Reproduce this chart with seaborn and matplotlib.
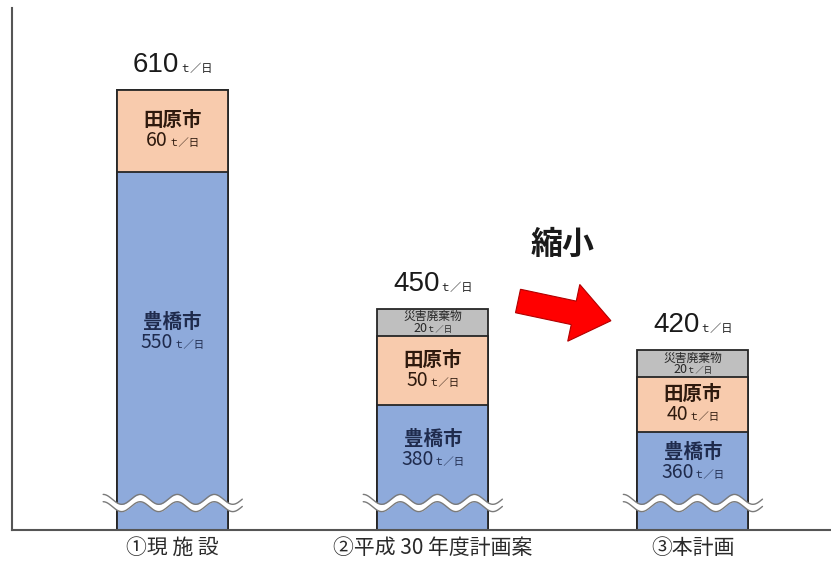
import numpy as np
import pandas as pd
import matplotlib
matplotlib.use("Agg")
import matplotlib.pyplot as plt
import matplotlib.transforms as mtransforms
from matplotlib.patches import Polygon
from matplotlib.offsetbox import TextArea, HPacker, VPacker, AnnotationBbox
import seaborn as sns

# ---- data (t/日) ----
plans = ["①現 施 設", "②平成 30 年度計画案", "③本計画"]
toyohashi = [550, 380, 360]
tahara = [60, 50, 40]
disaster = [0, 20, 20]
segment_names = ["豊橋市", "田原市", "災害廃棄物"]
unit = "ｔ／日"
shrink_label = "縮小"

sns.set_theme(style="white")
plt.rcParams["font.family"] = ["Noto Sans CJK JP", "DejaVu Sans"]
TOTAL_FONT = ["Liberation Sans", "DejaVu Sans"]
SEG_FONT = ["Noto Sans CJK JP", "DejaVu Sans"]

df = pd.DataFrame({"plan": plans, "豊橋市": toyohashi,
                   "田原市": tahara, "災害廃棄物": disaster})
df["cum1"] = df["豊橋市"]
df["cum2"] = df["cum1"] + df["田原市"]
df["cum3"] = df["cum2"] + df["災害廃棄物"]

BLUE, ORANGE, GRAY = "#8EAADB", "#F8CBAD", "#BFBFBF"
EDGE = "#262626"
BAR_W = 0.427

fig = plt.figure(figsize=(8.31, 5.65), dpi=100)
ax = fig.add_axes([12 / 831, 35 / 565, 819 / 831, 522 / 565])

# stacked bars: cumulative totals drawn from the top segment down
for col, c in [("cum3", GRAY), ("cum2", ORANGE), ("cum1", BLUE)]:
    sns.barplot(data=df, x="plan", y=col, color=c, saturation=1,
                edgecolor=EDGE, linewidth=1.3, width=BAR_W,
                errorbar=None, ax=ax, zorder=2)

# broken value axis: the low range is squeezed below the wavy break
BREAK, OFFSET = 300.0, 288.5
K = (BREAK - OFFSET) / BREAK


def fwd(y):
    y = np.asarray(y, float)
    return np.where(y < BREAK, y * K, y - OFFSET)


def inv(t):
    t = np.asarray(t, float)
    return np.where(t < BREAK * K, t / K, t + OFFSET)


ax.set_yscale("function", functions=(fwd, inv))
ax.set_ylim(0, 670)
ax.set_xlim(-0.618, 2.531)

ax.set_xlabel("")
ax.set_ylabel("")
ax.set_yticks([])
ax.tick_params(axis="x", length=0, pad=5, labelsize=15, labelcolor="#2a2a2a")
for s in ["top", "right"]:
    ax.spines[s].set_visible(False)
for s in ["left", "bottom"]:
    ax.spines[s].set_color("#555555")
    ax.spines[s].set_linewidth(1.5)

# wavy break marks across each bar
blend = mtransforms.blended_transform_factory(ax.transData, ax.transAxes)
WAVE_C, WAVE_A, WAVE_H = 0.0517, 0.0095, 0.0070
ext = 0.054
period = 0.1424
for i in range(len(plans)):
    xs = np.linspace(i - BAR_W / 2 - ext, i + BAR_W / 2 + ext, 200)
    mid = WAVE_C + WAVE_A * np.sin(2 * np.pi * (xs - xs[0]) / period + np.pi / 2)
    ax.fill_between(xs, mid - WAVE_H, mid + WAVE_H, transform=blend,
                    color="white", zorder=4, linewidth=0)
    ax.plot(xs, mid + WAVE_H, transform=blend, color="#7a7a7a", lw=1.0, zorder=5)
    ax.plot(xs, mid - WAVE_H, transform=blend, color="#7a7a7a", lw=1.0, zorder=5)


def value_row(num, size, usize, color, family):
    return HPacker(children=[
        TextArea(f"{num}", textprops=dict(fontsize=size, color=color,
                                          family=family)),
        TextArea(unit, textprops=dict(fontsize=usize, color=color))],
        align="baseline", pad=0, sep=0)


def seg_box(name, num, nsize, size, usize, color, sep, weight="bold"):
    return VPacker(children=[
        TextArea(name, textprops=dict(fontsize=nsize, color=color,
                                      fontweight=weight)),
        value_row(num, size, usize, color, SEG_FONT)],
        align="center", pad=0, sep=sep)


def place(box, x, y, **kw):
    ab = AnnotationBbox(box, (x, y), xycoords="data", frameon=False,
                        pad=0, zorder=6, **kw)
    ax.add_artist(ab)


wave_top_disp = ax.transAxes.transform((0, WAVE_C + WAVE_A + WAVE_H))[1]
for i, row in df.iterrows():
    # 豊橋市: centred in the visible part above the break
    top_disp = ax.transData.transform((i, row["cum1"]))[1]
    ymid = ax.transData.inverted().transform((0, (top_disp + wave_top_disp) / 2))[1]
    place(seg_box(segment_names[0], row["豊橋市"], 14, 14, 7.5, "#1F2B4D", 0), i, ymid)
    # 田原市
    y_or = inv((fwd(row["cum1"]) + fwd(row["cum2"])) / 2)
    place(seg_box(segment_names[1], row["田原市"], 14, 14, 7.5, "#2E1A0E", 0), i, float(y_or))
    # 災害廃棄物
    if row["災害廃棄物"] > 0:
        y_gr = inv((fwd(row["cum2"]) + fwd(row["cum3"])) / 2)
        place(seg_box(segment_names[2], row["災害廃棄物"], 8.5, 9, 6, "#262626", -1,
                      weight="normal"), i, float(y_gr))
    # total above the bar
    place(value_row(row["cum3"], 20, 8, "#1a1a1a", TOTAL_FONT), i, row["cum3"],
          xybox=(0, 9), boxcoords="offset points", box_alignment=(0.5, 0))

# reduction arrow and caption
fig.text(563 / 831, 1 - 245 / 565, shrink_label, fontsize=23, color="#1a1a1a",
         ha="center", va="center", fontweight="bold")
th = np.deg2rad(12)
d = np.array([np.cos(th), np.sin(th)])
n = np.array([-np.sin(th), np.cos(th)])
start = np.array([518.0, 301.0])
L, hl, hw, sw = 95, 38, 29, 12
local = [(0, -sw), (L - hl, -sw), (L - hl, -hw), (L, 0),
         (L - hl, hw), (L - hl, sw), (0, sw)]
pts = [start + a * d + b * n for a, b in local]
pts = [(p[0] / 831, 1 - p[1] / 565) for p in pts]
fig.patches.append(Polygon(pts, closed=True, transform=fig.transFigure,
                           facecolor="#FF0000", edgecolor="#B00000", lw=0.8))

fig.savefig("out.png", dpi=100)
